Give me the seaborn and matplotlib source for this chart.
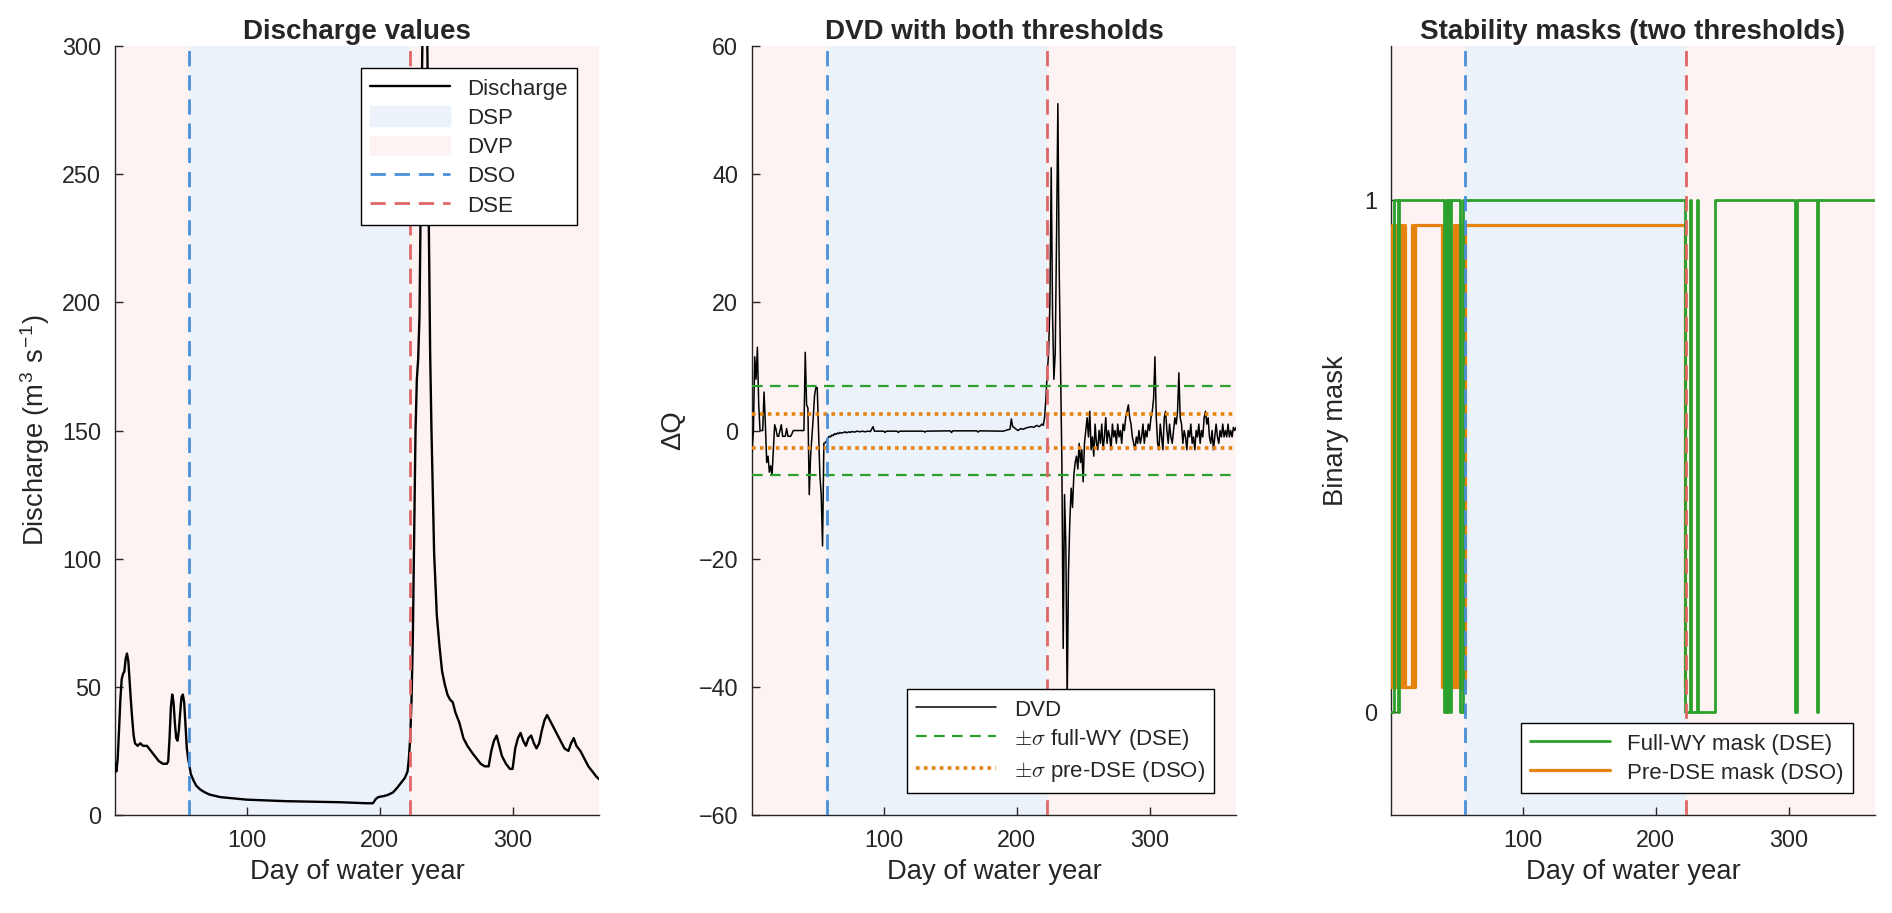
import numpy as np
import pandas as pd
import matplotlib
matplotlib.use("Agg")
import matplotlib.pyplot as plt
from matplotlib.patches import Patch
import seaborn as sns

# season markers (day of water year)
dso_day = 57
dse_day = 223
first_day = 1
last_day = 365

# discharge
q_day = [1, 2, 3, 4, 5, 6, 7, 8, 9, 10, 11, 12, 13, 14, 15, 16, 18, 20, 22, 25,
         28, 31, 34, 37, 40, 41, 42, 43, 44, 45, 46, 47, 48, 49, 50, 51, 52, 53,
         54, 55, 56, 57, 58, 60, 62, 65, 68, 72, 76, 80, 90, 100, 110, 120, 130,
         140, 150, 160, 170, 180, 190, 195, 197, 199, 203, 206, 210, 213, 216,
         219, 221, 222, 223, 224, 225, 226, 227, 228, 229, 230, 231, 232, 233,
         234, 235, 236, 237, 238, 239, 240, 241, 242, 243, 245, 247, 249, 251,
         253, 255, 257, 260, 263, 266, 270, 273, 276, 279, 282, 284, 286, 288,
         290, 292, 295, 298, 300, 302, 304, 306, 308, 310, 312, 314, 316, 318,
         320, 322, 324, 326, 328, 330, 333, 336, 339, 342, 344, 346, 348, 351,
         354, 357, 360, 363, 365]
q_val = [20, 17, 22, 33, 45, 53, 55, 56, 61, 63, 60, 52, 44, 37, 31, 28, 27, 28,
         27, 27, 25, 23, 21, 20, 20, 21, 30, 42, 47, 44, 36, 30, 29, 33, 40, 46,
         47, 44, 35, 26, 22, 19, 16, 13.5, 11.5, 10, 9, 8, 7.5, 7, 6.5, 6, 5.8,
         5.6, 5.4, 5.3, 5.2, 5.1, 5.0, 4.8, 4.6, 4.6, 6.2, 7, 7.4, 7.8, 8.8,
         10.5, 12.5, 14.5, 17, 22, 30, 45, 70, 110, 150, 170, 178, 195, 245, 295,
         330, 345, 330, 295, 230, 180, 150, 125, 102, 90, 78, 66, 56, 51, 47, 45,
         44, 40, 36, 30, 27, 24, 22, 20, 19, 19, 25, 29, 31, 27, 23, 20, 18, 18,
         26, 30, 32, 29, 27, 30, 31, 28, 26, 28, 33, 37, 39, 37, 35, 32, 29, 26,
         25, 28, 30, 27, 25, 22, 19, 17, 15, 14]

# day-to-day discharge variation (middle panel)
dvd_day = [1, 2, 3, 4, 5, 6, 7, 8, 9, 10, 11, 12, 13, 14, 15, 16, 17, 18, 19, 20,
           21, 22, 23, 24, 25, 26, 27, 28, 29, 30, 31, 32, 36, 40, 41, 42, 43, 44,
           45, 46, 47, 48, 49, 50, 51, 52, 53, 54, 55, 56, 57, 58, 59, 60, 61, 62,
           63, 64, 65, 66, 67, 68, 70, 71, 72, 74, 75, 76, 78, 80, 82, 84, 86, 88,
           90, 92, 93, 100, 101, 102, 110, 111, 112, 130, 131, 132, 150, 151, 152,
           170, 171, 172, 190, 193, 195, 196, 197, 198, 199, 201, 203, 205, 207,
           209, 211, 213, 215, 217, 219, 220, 221, 222, 223, 224, 225, 226, 227,
           228, 229, 230, 231, 232, 233, 234, 235, 236, 237, 238, 239, 240, 241,
           242, 243, 244] + list(range(245, 366))
dvd_val = [-3.3, 0, 11.5, 8, 13, 4, 0, 0, 0, 6, 1, -5, -4, -6.5, -5.5, -7, -3,
           0.9, 0.2, -0.9, -0.9, 0, 0.9, -0.9, -0.9, -0.9, 0.3, -0.9, -0.9, -0.9,
           -0.5, 0, 0, 0, 12.2, 4, 3.5, -10, -4, -1, 2, 5.5, 6.7, 6.7, 0, -7, -10,
           -18, -2, -1.9, -1.6, -1.2, -0.9, -1.0, -0.7, -0.8, -0.5, -0.6, -0.4,
           -0.5, -0.3, -0.4, -0.3, -0.2, -0.35, -0.2, -0.3, -0.15, -0.25, -0.1,
           -0.2, -0.1, -0.2, -0.1, -0.15, 0.6, -0.1, -0.1, -0.3, -0.1, -0.1, -0.3,
           -0.1, -0.1, -0.25, -0.1, -0.05, -0.3, -0.05, -0.05, -0.25, -0.05, -0.1,
           0.1, 0.2, 1.8, 0.6, 0.5, 0.3, 0, 0.3, 0.2, 0.4, 0.5, 0.6, 0.5, 0.8, 0.6,
           1.0, 0.8, 2, 5, 9, 12, 20, 41, 18, 8, 12, 30, 51, 25, 10, -5, -34, -10,
           -18, -42, -22, -14, -9, -12, -7, -5,
           # days 245-365
           -4, -6, -2, -5, -3, -8, -2, 0, 2, -1, 3, -3, -1, -4, 1, -2, -3, 0, -2,
           1, -3, -1, 2, -2, 0, -1, -3, 1, -1, 0, -2, 1, -1, 0, -2, 1, 0, 2, 3, 4,
           2, 1, -1, -2, -3, -1, -2, 0, -2, -1, 1, -2, 0, -1, 1, 0, 2, 3, 5, 11.5,
           2, -2, -3, 1, -1, -3, 2, 3, 0, -2, 1, -1, -2, 0, 2, 1, 3, 9, 2, 1, -2,
           0, -1, -3, 0, -1, 1, -2, -1, -3, 0, -1, 1, -2, 0, -1, 2, 3, 1, 2, -1,
           -2, 0, -3, -1, 1, -1, -2, 0, -1, 1, -1, 0, -1, 1, -1, 0, -1, 0.5, 0,
           0.5]

sigma_full = 7.0   # full water year (DSE)
sigma_pre = 2.65   # pre-DSE (DSO)

# stability masks as change points (1 = stable)
full_day = [1, 3.3, 6.3, 7, 41, 42, 43, 44, 45, 45.8, 53, 55, 222, 226, 227,
            231, 232, 245, 305, 306, 321.5, 322.5, 365]
full_state = [0, 1, 0, 1, 0, 1, 0, 1, 0, 1, 0, 1, 0, 1, 0, 1, 0, 1, 0, 1, 0, 1, 1]
pre_day = [1, 2, 3, 4, 4.5, 6.5, 7.5, 8.5, 9.5, 10.5, 11.5, 17, 18.5, 19.2,
           39.5, 40.5, 41.5, 42.5, 43.5, 44.5, 45.6, 48.1, 50, 51, 52, 53, 54,
           55, 56, 56.8, 222, 223]
pre_state = [0, 1, 0, 1, 0, 1, 0, 1, 0, 1, 0, 1, 0, 1, 0, 1, 0, 1, 0, 1, 0, 1,
             0, 1, 0, 1, 0, 1, 0, 1, 0, 0]

sns.set_theme(style="ticks")
plt.rcParams["font.family"] = ["Liberation Sans", "DejaVu Sans"]
plt.rcParams["mathtext.fontset"] = "cm"
plt.rcParams["axes.edgecolor"] = "#262626"
plt.rcParams["axes.linewidth"] = 1.0
plt.rcParams["xtick.color"] = "#262626"
plt.rcParams["ytick.color"] = "#262626"

c_dvp = "#fdf3f3"
c_dsp = "#ebf2fa"
c_dso = "#4a90d9"
c_dse = "#e06666"
c_green = "#2ca02c"
c_orange = "#e6820e"
vdash = (0, (5.5, 3.2))

fig = plt.figure(figsize=(18.92, 9.13), dpi=100)
axes = [fig.add_axes([0.0608, 0.1073, 0.2558, 0.8423]),
        fig.add_axes([0.3975, 0.1073, 0.2558, 0.8423]),
        fig.add_axes([0.7352, 0.1073, 0.2558, 0.8423])]

leg_kw = dict(fontsize=16, frameon=True, fancybox=False, framealpha=1,
              edgecolor="black", handlelength=3.6, handleheight=1.0,
              labelspacing=0.3, borderpad=0.4, borderaxespad=1.0)


def decorate(ax):
    dvp = ax.axvspan(first_day, dso_day, color=c_dvp, lw=0, zorder=0)
    dsp = ax.axvspan(dso_day, dse_day, color=c_dsp, lw=0, zorder=0)
    ax.axvspan(dse_day, last_day, color=c_dvp, lw=0, zorder=0)
    lo = ax.axvline(dso_day, color=c_dso, ls=vdash, lw=2.0, zorder=5)
    le = ax.axvline(dse_day, color=c_dse, ls=vdash, lw=2.0, zorder=5)
    ax.set_xlim(first_day, last_day)
    ax.set_xticks([100, 200, 300])
    ax.tick_params(direction="in", length=5.5, width=1, labelsize=16.8, pad=10)
    sns.despine(ax=ax)
    ax.set_xlabel("Day of water year", fontsize=19.7, labelpad=5)
    return dsp, dvp, lo, le


# panel 1: discharge
ax = axes[0]
dsp, dvp, lo, le = decorate(ax)
qdf = pd.DataFrame({"day": q_day, "Q": q_val})
sns.lineplot(data=qdf, x="day", y="Q", color="black", lw=1.7, ax=ax, zorder=3)
lq = ax.lines[-1]
ax.set_ylim(0, 300)
ax.set_yticks(np.arange(0, 301, 50))
ax.set_ylabel(r"Discharge (m$^\mathregular{3}$ s$^\mathregular{-1}$)", fontsize=19.7, labelpad=7)
ax.set_title("Discharge values", fontsize=20, fontweight="bold", pad=5)
ax.legend([lq, Patch(color=c_dsp), Patch(color=c_dvp), lo, le],
          ["Discharge", "DSP", "DVP", "DSO", "DSE"], loc="upper right", **leg_kw)

# panel 2: DVD with both thresholds
ax = axes[1]
decorate(ax)
ddf = pd.DataFrame({"day": dvd_day, "dvd": dvd_val})
sns.lineplot(data=ddf, x="day", y="dvd", color="black", lw=1.1, ax=ax, zorder=3)
ld = ax.lines[-1]
lg = ax.axhline(sigma_full, color=c_green, ls=(0, (4.8, 3.3)), lw=1.6, zorder=4)
ax.axhline(-sigma_full, color=c_green, ls=(0, (4.8, 3.3)), lw=1.6, zorder=4)
lor = ax.axhline(sigma_pre, color=c_orange, ls=(0, (1, 1.2)), lw=2.6, zorder=4)
ax.axhline(-sigma_pre, color=c_orange, ls=(0, (1, 1.2)), lw=2.6, zorder=4)
ax.set_ylim(-60, 60)
ax.set_yticks(np.arange(-60, 61, 20))
ax.set_ylabel("ΔQ", fontsize=19.7, labelpad=9)
ax.set_title("DVD with both thresholds", fontsize=20, fontweight="bold", pad=5)
ax.legend([ld, lg, lor], ["DVD", r"$\pm\sigma$ full-WY (DSE)", r"$\pm\sigma$ pre-DSE (DSO)"],
          loc="lower right", **leg_kw)

# panel 3: stability masks
ax = axes[2]
decorate(ax)
pdf = pd.DataFrame({"day": pre_day, "lvl": 0.05 + 0.9 * np.array(pre_state)})
fdf = pd.DataFrame({"day": full_day, "lvl": full_state})
sns.lineplot(data=pdf, x="day", y="lvl", color=c_orange, lw=2.3, ax=ax,
             drawstyle="steps-post", estimator=None, sort=False, zorder=3)
lp = ax.lines[-1]
sns.lineplot(data=fdf, x="day", y="lvl", color=c_green, lw=2.0, ax=ax,
             drawstyle="steps-post", estimator=None, sort=False, zorder=3)
lf = ax.lines[-1]
ax.set_ylim(-0.2, 1.3)
ax.set_yticks([0, 1])
ax.set_ylabel("Binary mask", fontsize=19.7, labelpad=11)
ax.set_title("Stability masks (two thresholds)", fontsize=20, fontweight="bold", pad=5)
ax.legend([lf, lp], ["Full-WY mask (DSE)", "Pre-DSE mask (DSO)"], loc="lower right", **leg_kw)

fig.savefig("out.png", dpi=100)
